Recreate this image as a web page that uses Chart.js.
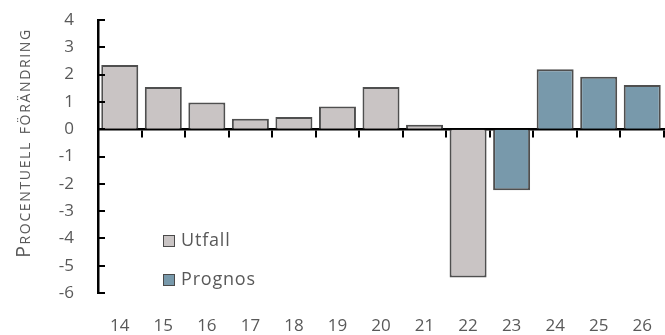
<!DOCTYPE html>
<html><head><meta charset="utf-8">
<script src="https://cdn.jsdelivr.net/npm/chart.js@4/dist/chart.umd.min.js"></script>
<style>
html,body{margin:0;padding:0;background:#fff;}
#wrap{position:relative;width:665px;height:335px;overflow:hidden;}
.leg{position:absolute;left:163px;font-family:"Open Sans",sans-serif;font-size:18px;letter-spacing:0.8px;color:#595959;line-height:20px;}
.leg span{display:inline-block;width:10px;height:10px;border:1.5px solid #4a4a4a;margin-right:6px;vertical-align:-1px;}
#ytitle{position:absolute;left:-127px;top:133px;width:300px;height:20px;line-height:20px;text-align:center;
  transform:rotate(-90deg);font-family:"Open Sans",sans-serif;font-size:19.5px;font-variant:small-caps;letter-spacing:1.65px;color:#595959;white-space:nowrap;}
</style></head>
<body><div id="wrap"><canvas id="c" width="665" height="335"></canvas>
<div id="ytitle"></div>
<div class="leg" style="top:229px"><span style="background:#c9c4c4"></span>Utfall</div>
<div class="leg" style="top:268px"><span style="background:#7899ab"></span>Prognos</div>
</div>
<script>
const categories = ['14','15','16','17','18','19','20','21','22','23','24','25','26'];
const utfall  = [2.35, 1.55, 0.98, 0.38, 0.45, 0.83, 1.55, 0.16, -5.43, null, null, null, null];
const prognos = [null, null, null, null, null, null, null, null, null, -2.24, 2.2, 1.92, 1.62];
const yTitle = 'Procentuell förändring';
document.getElementById('ytitle').textContent = yTitle;

const FONT = '"Open Sans", sans-serif';
const TXT = '#595959';

const yInTicks = {
  id: 'yInTicks',
  afterDatasetsDraw(chart) {
    const y = chart.scales.y, ctx = chart.ctx, left = chart.chartArea.left;
    ctx.save();
    ctx.strokeStyle = '#000'; ctx.lineWidth = 2;
    y.ticks.forEach(t => {
      const py = Math.round(y.getPixelForValue(t.value));
      ctx.beginPath(); ctx.moveTo(left, py); ctx.lineTo(left + 7, py); ctx.stroke();
    });
    ctx.restore();
  }
};

new Chart(document.getElementById('c'), {
  type: 'bar',
  data: {
    labels: categories,
    datasets: [
      { label: 'Utfall', data: utfall, backgroundColor: '#c9c4c4', borderColor: '#4f4f4f', borderWidth: 2, borderSkipped: 'start', xAxisID: 'x' },
      { label: 'Prognos', data: prognos, backgroundColor: '#7899ab', borderColor: '#4f4f4f', borderWidth: 2, borderSkipped: 'start', xAxisID: 'x' }
    ]
  },
  options: {
    responsive: false,
    animation: false,
    layout: { padding: { top: 20, right: 1, left: 0, bottom: 0 } },
    datasets: { bar: { grouped: false, categoryPercentage: 1, barPercentage: 0.85 } },
    plugins: { legend: { display: false }, tooltip: { enabled: false } },
    scales: {
      x: {
        type: 'category',
        position: { y: 0 },
        offset: true,
        ticks: { display: false },
        grid: { drawOnChartArea: false, drawTicks: true, tickLength: 7, offset: true, color: '#000', lineWidth: 2 },
        border: { display: true, color: '#000', width: 2.5 },
        afterFit(s) { s.paddingLeft = 0; s.paddingRight = 0; }
      },
      x2: {
        type: 'category',
        position: 'bottom',
        offset: true,
        labels: categories,
        grid: { display: false, drawTicks: false },
        border: { display: false },
        ticks: { color: TXT, font: { family: FONT, size: 17 }, padding: 23, maxRotation: 0, autoSkip: false },
        afterFit(s) { s.height = 42; s.paddingLeft = 0; s.paddingRight = 0; }
      },
      y: {
        min: -6, max: 4,
        ticks: { stepSize: 1, color: TXT, font: { family: FONT, size: 17 }, padding: 24 },
        grid: { display: true, drawOnChartArea: false, drawTicks: false },
        border: { display: true, color: '#000', width: 2.5 },
        afterFit(s) { s.width = 98; s.paddingTop = 0; s.paddingBottom = 0; }
      }
    }
  },
  plugins: [yInTicks]
});
</script></body></html>
